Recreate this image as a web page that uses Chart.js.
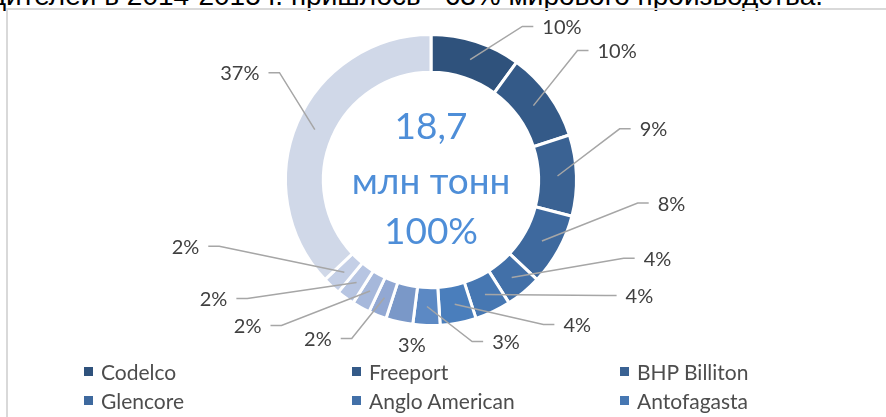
<!DOCTYPE html>
<html>
<head>
<meta charset="utf-8">
<script src="https://cdn.jsdelivr.net/npm/chart.js@4.4.1/dist/chart.umd.min.js"></script>
<style>
  html, body { margin: 0; padding: 0; background: #fff; }
  body { width: 886px; height: 417px; overflow: hidden; position: relative; font-family: Lato, sans-serif; }
  #heading { position: absolute; right: 63px; top: -18px; white-space: nowrap;
             font: 28px/28px "Liberation Sans", Arial, sans-serif; color: #000; }
  #frame { position: absolute; left: 6px; top: 8px; width: 1000px; height: 1000px; border: 2px solid #D9D9D9; }
  #chart { position: absolute; left: 0; top: 0; }
  #legend { position: absolute; left: 84px; top: 357px; display: grid;
            grid-template-columns: 268px 268px 268px; grid-auto-rows: 29px; }
  .item { display: flex; align-items: center; font-size: 21px; color: #4D4D4D; white-space: nowrap; }
  .item i { display: inline-block; width: 9px; height: 9px; margin-right: 8px; }
</style>
</head>
<body>
<div id="heading">производителей в 2014-2015 г. пришлось ~63% мирового производства.</div>
<div id="frame"></div>
<canvas id="chart" width="886" height="417"></canvas>
<div id="legend"></div>
<script>
// data
const companies = ['Codelco', 'Freeport', 'BHP Billiton', 'Glencore', 'Anglo American', 'Antofagasta',
  'Southern Copper', 'KGHM', 'Rio Tinto', 'First Quantum', 'Норильский никель', 'Vale', 'Kazakhmys', 'Прочие'];
const shares = [10, 10, 9, 8, 4, 4, 4, 3, 3, 2, 2, 2, 2, 37];
const centerLines = ['18,7', 'млн тонн', '100%'];

const sliceColors = ['#2F527C', '#345A88', '#3A6293', '#3E699E', '#4270A8', '#4677B2', '#4A7EBC',
  '#5C89C4', '#7A98C8', '#92A8D3', '#A6B8DB', '#B7C5E2', '#C4CFE6', '#D0D8E8'];

// where each label's leader bends (px from the centre, for an outer radius of 145); null = label without leader
const labelBends = [[91, -153], [146, -129], [188, -51], [206, 23], [192, 78], [174, 115], [112, 144],
  [41, 161], null, [-79, 158], [-149, 145], [-183, 118], [-211, 66], [-151, -107]];
const plainLabelAt = [-19, 165];

const leaderLabels = {
  id: 'leaderLabels',
  afterDatasetsDraw(chart) {
    const ctx = chart.ctx;
    const arcs = chart.getDatasetMeta(0).data;
    ctx.save();
    ctx.font = '20px Lato';
    ctx.textBaseline = 'middle';
    arcs.forEach((arc, i) => {
      const k = arc.outerRadius / 145;
      const text = shares[i] + '%';
      const bend = labelBends[i];
      ctx.fillStyle = '#404040';
      if (!bend) {
        ctx.textAlign = 'center';
        ctx.fillText(text, arc.x + plainLabelAt[0] * k, arc.y + plainLabelAt[1] * k);
        return;
      }
      const a = arc.getCenterPoint();
      const bx = arc.x + bend[0] * k, by = arc.y + bend[1] * k;
      const dir = bend[0] >= 0 ? 1 : -1;
      ctx.strokeStyle = '#A6A6A6';
      ctx.lineWidth = 1.5;
      ctx.beginPath();
      ctx.moveTo(a.x, a.y);
      ctx.lineTo(bx, by);
      ctx.lineTo(bx + dir * 11, by);
      ctx.stroke();
      ctx.textAlign = dir > 0 ? 'left' : 'right';
      ctx.fillText(text, bx + dir * 20, by + 1);
    });
    ctx.restore();
  }
};

const centerText = {
  id: 'centerText',
  afterDatasetsDraw(chart) {
    const arc = chart.getDatasetMeta(0).data[0];
    const ctx = chart.ctx;
    ctx.save();
    ctx.font = '37px Lato';
    ctx.fillStyle = '#4E8ED8';
    ctx.textAlign = 'center';
    ctx.textBaseline = 'middle';
    [-53, 2, 52].forEach((dy, i) => ctx.fillText(centerLines[i], arc.x, arc.y + dy));
    ctx.restore();
  }
};

new Chart(document.getElementById('chart'), {
  type: 'doughnut',
  data: {
    labels: companies,
    datasets: [{
      data: shares,
      backgroundColor: sliceColors,
      borderColor: '#FFFFFF',
      borderWidth: 3
    }]
  },
  options: {
    responsive: false,
    animation: false,
    events: [],
    cutout: '74%',
    layout: { padding: { left: 284, right: 308, top: 33, bottom: 90 } },
    plugins: { legend: { display: false }, tooltip: { enabled: false } }
  },
  plugins: [leaderLabels, centerText]
});

// legend in three fixed columns, like the original; rows past the window are cut off
const legend = document.getElementById('legend');
companies.forEach((name, i) => {
  const item = document.createElement('div');
  item.className = 'item';
  item.innerHTML = '<i style="background:' + sliceColors[i] + '"></i>' + name;
  legend.appendChild(item);
});
</script>
</body>
</html>
